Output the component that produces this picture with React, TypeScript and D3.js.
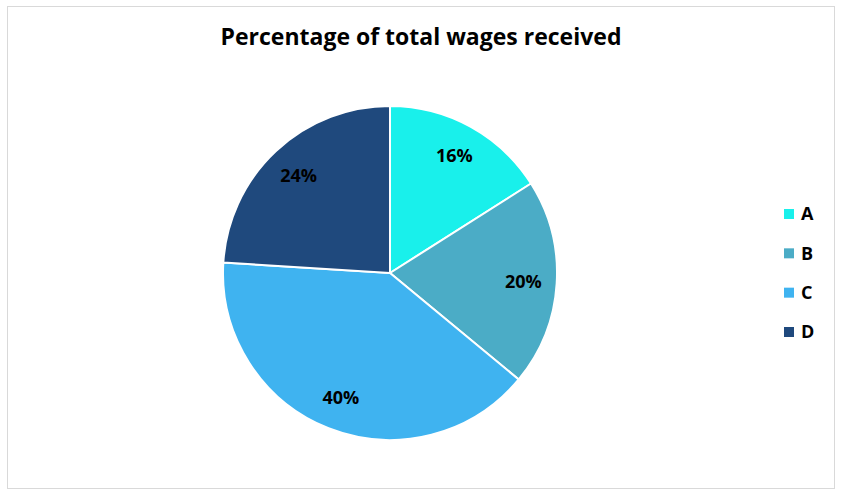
import { useEffect, useRef } from 'react';
import * as d3 from 'd3';

const categories = ['A', 'B', 'C', 'D'];
const values = [16, 20, 40, 24];
const colors = ['#19F0EB', '#4BACC6', '#3FB3F0', '#1F497D'];
const title = 'Percentage of total wages received';

const WIDTH = 842;
const HEIGHT = 498;
const FONT = '"Open Sans", "Liberation Sans", sans-serif';

const App = () => {
  const svgRef = useRef<SVGSVGElement>(null);

  useEffect(() => {
    if (!svgRef.current) return;
    const svg = d3.select(svgRef.current);
    svg.selectAll('*').remove();

    // Chart frame
    svg.append('rect')
      .attr('x', 7.5)
      .attr('y', 6.5)
      .attr('width', 827)
      .attr('height', 482)
      .attr('fill', '#fff')
      .attr('stroke', '#d9d9d9')
      .attr('stroke-width', 1);

    svg.append('text')
      .attr('x', 421)
      .attr('y', 45)
      .attr('text-anchor', 'middle')
      .style('font-family', FONT)
      .style('font-size', '23px')
      .style('font-weight', 700)
      .style('fill', '#000')
      .text(title);

    const cx = 390;
    const cy = 273;
    const radius = 167;

    const data = categories.map((c, i) => ({ cat: c, value: values[i], color: colors[i] }));

    const pie = d3.pie<typeof data[number]>()
      .value(d => d.value)
      .sort(null);

    const arc = d3.arc<d3.PieArcDatum<typeof data[number]>>()
      .innerRadius(0)
      .outerRadius(radius);

    const labelArc = d3.arc<d3.PieArcDatum<typeof data[number]>>()
      .innerRadius(radius * 0.8)
      .outerRadius(radius * 0.8);

    const g = svg.append('g').attr('transform', `translate(${cx},${cy})`);
    const arcs = pie(data);

    g.selectAll('path.slice')
      .data(arcs)
      .join('path')
      .attr('class', 'slice')
      .attr('d', arc)
      .attr('fill', d => d.data.color)
      .attr('stroke', '#fff')
      .attr('stroke-width', 2);

    g.selectAll('text.lbl')
      .data(arcs)
      .join('text')
      .attr('class', 'lbl')
      .attr('transform', d => `translate(${labelArc.centroid(d)})`)
      .attr('text-anchor', 'middle')
      .attr('dy', '0.35em')
      .style('font-family', FONT)
      .style('font-size', '18px')
      .style('font-weight', 700)
      .style('fill', '#000')
      .text(d => `${d.data.value}%`);

    // Legend
    const legendY = d3.scalePoint<string>()
      .domain(categories)
      .range([214, 332]);

    const legend = svg.append('g');
    const items = legend.selectAll('g')
      .data(data)
      .join('g')
      .attr('transform', d => `translate(784,${legendY(d.cat)})`);

    items.append('rect')
      .attr('x', 0)
      .attr('y', -5)
      .attr('width', 10)
      .attr('height', 10)
      .attr('fill', d => d.color);

    items.append('text')
      .attr('x', 17)
      .attr('dy', '0.36em')
      .style('font-family', FONT)
      .style('font-size', '18px')
      .style('font-weight', 700)
      .style('fill', '#000')
      .text(d => d.cat);
  }, []);

  return (
    <svg
      ref={svgRef}
      width={WIDTH}
      height={HEIGHT}
      style={{ position: 'absolute', left: 0, top: 0, display: 'block' }}
    />
  );
};

export default App;
